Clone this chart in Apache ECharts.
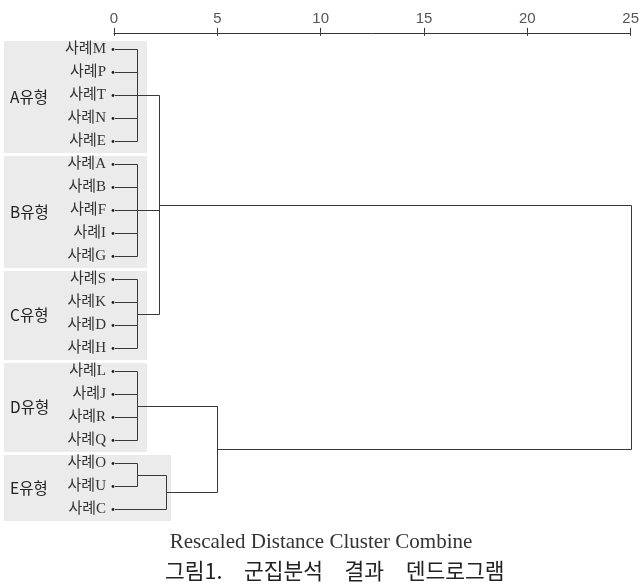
<!DOCTYPE html>
<html><head><meta charset="utf-8">
<script src="https://cdn.jsdelivr.net/npm/echarts@6/dist/echarts.min.js"></script>
<style>html,body{margin:0;padding:0;background:#fff}#c{width:642px;height:585px}</style>
</head><body><div id="c"></div>
<script>
// ---- data ----
const distanceTicks = [0, 5, 10, 15, 20, 25];
const leaves = ['사례M','사례P','사례T','사례N','사례E','사례A','사례B','사례F','사례I','사례G','사례S','사례K','사례D','사례H','사례L','사례J','사례R','사례Q','사례O','사례U','사례C'];
const groupNames = ['A유형','B유형','C유형','D유형','E유형'];
const groupSizes = [5, 5, 4, 4, 3];
const clusterNames = ['cA','cB','cC','cD','cOU','cE','cABC','cDE','cAll'];
const clusterChildren = [
  ['사례M','사례P','사례T','사례N','사례E'],
  ['사례A','사례B','사례F','사례I','사례G'],
  ['사례S','사례K','사례D','사례H'],
  ['사례L','사례J','사례R','사례Q'],
  ['사례O','사례U'],
  ['cOU','사례C'],
  ['cA','cB','cC'],
  ['cD','cE'],
  ['cABC','cDE']
];
const clusterDistances = [1.1, 1.1, 1.1, 1.1, 1.1, 2.5, 2.2, 5, 25];

// ---- derived tree layout (data units) ----
const nodePos = {};
leaves.forEach((n, i) => { nodePos[n] = { x: 0, y: i }; });
clusterNames.forEach((n, k) => {
  const ys = clusterChildren[k].map(c => nodePos[c].y);
  const lo = Math.min(...ys), hi = Math.max(...ys);
  nodePos[n] = { x: clusterDistances[k], y: (lo + hi) / 2, lo: lo, hi: hi };
});
const groupStart = [];
groupSizes.reduce((s, v, i) => { groupStart[i] = s; return s + v; }, 0);

// ---- styles ----
const LINE = '#383838';
const boxRightOffset = [33, 33, 33, 33, 57];
function crisp(v) { return Math.round(v) + 0.5; }
function yOf(api, v) {
  const y0 = api.coord([0, 0])[1], y1 = api.coord([0, 1])[1];
  return y0 + v * (y1 - y0);
}

const chart = echarts.init(document.getElementById('c'));
const xAxisBase = { type: 'value', position: 'top', min: distanceTicks[0], max: distanceTicks[distanceTicks.length - 1], interval: 5, offset: 5, splitLine: { show: false } };
chart.setOption({
  animation: false,
  backgroundColor: '#fff',
  grid: { left: 114, right: 10, top: 37.8, bottom: 64.2 },
  xAxis: [
    Object.assign({}, xAxisBase, {
      axisLine: { show: true, lineStyle: { color: '#333', width: 1 } },
      axisTick: { show: true, length: 5, lineStyle: { color: '#333' } },
      axisLabel: { margin: 6, fontSize: 15, color: '#555', fontFamily: 'Liberation Sans, sans-serif' }
    }),
    Object.assign({}, xAxisBase, {
      axisLine: { show: false },
      axisTick: { show: true, inside: true, length: 3, lineStyle: { color: '#333' } },
      axisLabel: { show: false }
    })
  ],
  yAxis: {
    type: 'category', inverse: true, data: leaves,
    axisLine: { show: false }, axisTick: { show: false }, splitLine: { show: false },
    axisLabel: { margin: 8, fontSize: 15, color: '#333', fontFamily: '"Liberation Serif", "Noto Sans CJK KR", serif' }
  },
  title: [
    { text: 'Rescaled Distance Cluster Combine', left: 'center', top: 527,
      textStyle: { fontSize: 21, fontWeight: 'normal', color: '#333', fontFamily: '"Liberation Serif", serif' } },
    { text: '그림1.\u3000군집분석\u3000결과\u3000덴드로그램', left: 160, top: 555,
      textStyle: { fontSize: 21.5, fontWeight: 'normal', color: '#222', fontFamily: '"Noto Sans CJK KR", sans-serif' } }
  ],
  series: [
    {
      type: 'custom', z: -10, silent: true,
      data: groupNames.map((g, i) => [i]),
      renderItem: function (params, api) {
        const g = api.value(0);
        const first = groupStart[g], last = first + groupSizes[g] - 1;
        const band = yOf(api, 1) - yOf(api, 0);
        const top = Math.round(yOf(api, first) - band / 2 + 3.5);
        const bottom = Math.round(yOf(api, last) + band / 2);
        const x0 = api.coord([0, 0])[0];
        return {
          type: 'group',
          children: [
            { type: 'rect', shape: { x: 4, y: top, width: x0 + boxRightOffset[g] - 4, height: bottom - top },
              style: { fill: '#ebebeb' } },
            { type: 'text', style: { text: groupNames[g], x: 10, y: (yOf(api, first) + yOf(api, last)) / 2 + 1.5,
              textAlign: 'left', textVerticalAlign: 'middle', fill: '#222', fontSize: 15.5,
              fontFamily: '"Noto Sans CJK KR", sans-serif' } }
          ]
        };
      }
    },
    {
      type: 'custom', silent: true,
      data: clusterNames.map((n, k) => [k]),
      renderItem: function (params, api) {
        const k = api.value(0);
        const node = nodePos[clusterNames[k]];
        const x = crisp(api.coord([clusterDistances[k], 0])[0]);
        const els = [];
        els.push({ type: 'line', shape: { x1: x, y1: crisp(yOf(api, node.lo)), x2: x, y2: crisp(yOf(api, node.hi)) },
          style: { stroke: LINE, lineWidth: 1 } });
        clusterChildren[k].forEach(c => {
          const cp = nodePos[c];
          const y = crisp(yOf(api, cp.y));
          const isLeaf = cp.lo === undefined;
          const cx = isLeaf ? api.coord([0, 0])[0] + 1 : crisp(api.coord([cp.x, 0])[0]);
          els.push({ type: 'line', shape: { x1: cx, y1: y, x2: x, y2: y }, style: { stroke: LINE, lineWidth: 1 } });
          if (isLeaf) {
            els.push({ type: 'circle', shape: { cx: api.coord([0, 0])[0] - 1, cy: y, r: 1.4 }, style: { fill: '#222' } });
          }
        });
        return { type: 'group', children: els };
      }
    }
  ]
});
</script>
</body></html>
